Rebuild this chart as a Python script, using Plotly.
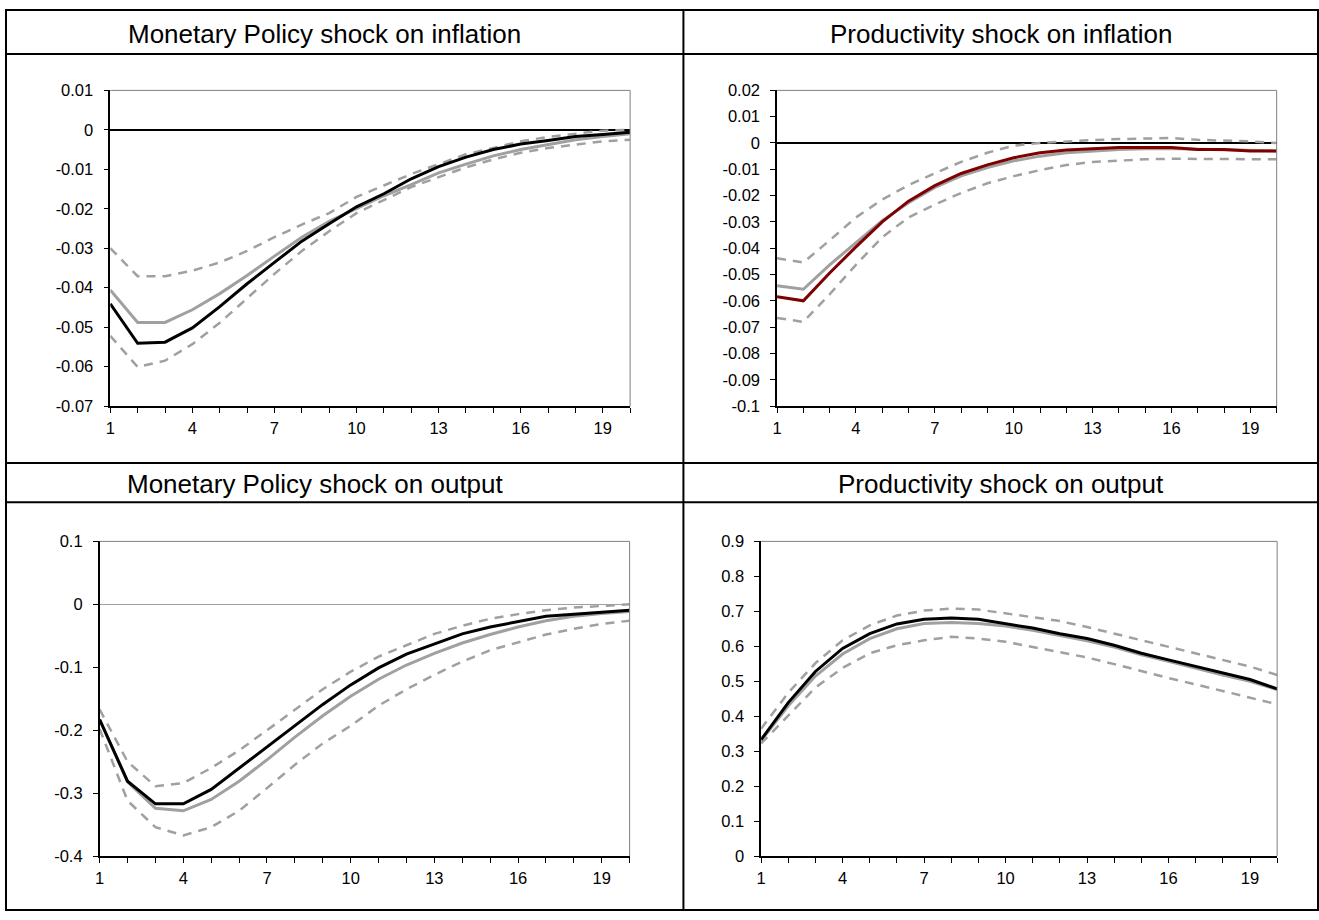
import plotly.graph_objects as go

W, H = 1319, 920

periods = list(range(1, 21))
x_tick_labels = ["1", "", "", "4", "", "", "7", "", "", "10", "", "", "13", "", "", "16", "", "", "19", ""]

titles = ["Monetary Policy shock on inflation", "Productivity shock on inflation",
          "Monetary Policy shock on output", "Productivity shock on output"]

# Panel 1: Monetary Policy shock on inflation
mp_inf_main = [-0.0441, -0.0541, -0.0538, -0.0502, -0.0448, -0.0390, -0.0336, -0.0282, -0.0238, -0.0195,
               -0.0162, -0.0124, -0.0093, -0.0069, -0.0050, -0.0036, -0.0027, -0.0017, -0.0012, -0.0006]
mp_inf_grey = [-0.0406, -0.0488, -0.0488, -0.0456, -0.0415, -0.0369, -0.0320, -0.0272, -0.0232, -0.0199,
               -0.0167, -0.0139, -0.0109, -0.0087, -0.0066, -0.0050, -0.0037, -0.0025, -0.0017, -0.0010]
mp_inf_up = [-0.0300, -0.0371, -0.0371, -0.0357, -0.0336, -0.0307, -0.0272, -0.0240, -0.0211, -0.0170,
             -0.0141, -0.0112, -0.0087, -0.0062, -0.0046, -0.0029, -0.0018, -0.0010, -0.0002, 0.0000]
mp_inf_lo = [-0.0522, -0.0601, -0.0585, -0.0543, -0.0489, -0.0427, -0.0365, -0.0307, -0.0257, -0.0211,
             -0.0178, -0.0145, -0.0120, -0.0095, -0.0075, -0.0058, -0.0046, -0.0037, -0.0029, -0.0025]
mp_inf_yticks = [0.01, 0, -0.01, -0.02, -0.03, -0.04, -0.05, -0.06, -0.07]

# Panel 2: Productivity shock on inflation
pr_inf_main = [-0.0584, -0.0600, -0.0494, -0.0395, -0.0300, -0.0221, -0.0162, -0.0116, -0.0083, -0.0056,
               -0.0037, -0.0027, -0.0022, -0.0017, -0.0017, -0.0017, -0.0025, -0.0025, -0.0030, -0.0030]
pr_inf_grey = [-0.0543, -0.0556, -0.0463, -0.0378, -0.0295, -0.0227, -0.0169, -0.0125, -0.0093, -0.0068,
               -0.0050, -0.0037, -0.0030, -0.0025, -0.0022, -0.0021, -0.0024, -0.0026, -0.0029, -0.0030]
pr_inf_up = [-0.0438, -0.0454, -0.0370, -0.0283, -0.0215, -0.0160, -0.0115, -0.0072, -0.0037, -0.0010,
             0.0000, 0.0006, 0.0011, 0.0015, 0.0017, 0.0019, 0.0012, 0.0010, 0.0006, 0.0000]
pr_inf_lo = [-0.0665, -0.0680, -0.0575, -0.0463, -0.0358, -0.0283, -0.0234, -0.0190, -0.0153, -0.0126,
             -0.0103, -0.0084, -0.0072, -0.0066, -0.0062, -0.0060, -0.0060, -0.0060, -0.0060, -0.0062]
pr_inf_yticks = [0.02, 0.01, 0, -0.01, -0.02, -0.03, -0.04, -0.05, -0.06, -0.07, -0.08, -0.09, -0.1]

# Panel 3: Monetary Policy shock on output
mp_out_main = [-0.183, -0.281, -0.317, -0.317, -0.294, -0.260, -0.227, -0.193, -0.159, -0.128,
               -0.101, -0.079, -0.0625, -0.047, -0.036, -0.027, -0.019, -0.0156, -0.012, -0.0094]
mp_out_grey = [-0.183, -0.282, -0.324, -0.328, -0.310, -0.281, -0.247, -0.211, -0.177, -0.146,
               -0.119, -0.0964, -0.078, -0.0615, -0.048, -0.036, -0.026, -0.019, -0.0146, -0.0115]
mp_out_up = [-0.167, -0.250, -0.289, -0.284, -0.260, -0.232, -0.200, -0.167, -0.135, -0.107,
             -0.083, -0.065, -0.047, -0.034, -0.023, -0.0156, -0.0094, -0.0052, -0.0026, 0.0]
mp_out_lo = [-0.198, -0.312, -0.354, -0.367, -0.354, -0.328, -0.292, -0.255, -0.221, -0.193,
             -0.161, -0.135, -0.112, -0.091, -0.073, -0.060, -0.048, -0.039, -0.031, -0.026]
mp_out_yticks = [0.1, 0, -0.1, -0.2, -0.3, -0.4]

# Panel 4: Productivity shock on output
pr_out_main = [0.333, 0.439, 0.528, 0.594, 0.636, 0.664, 0.677, 0.681, 0.677, 0.664,
               0.652, 0.636, 0.622, 0.603, 0.580, 0.561, 0.542, 0.523, 0.505, 0.478]
pr_out_grey = [0.330, 0.430, 0.515, 0.578, 0.622, 0.650, 0.665, 0.668, 0.665, 0.658,
               0.646, 0.632, 0.616, 0.598, 0.576, 0.557, 0.537, 0.518, 0.500, 0.476]
pr_out_up = [0.364, 0.467, 0.552, 0.617, 0.660, 0.688, 0.702, 0.708, 0.705, 0.694,
             0.685, 0.672, 0.655, 0.636, 0.617, 0.600, 0.580, 0.561, 0.542, 0.518]
pr_out_lo = [0.322, 0.402, 0.482, 0.538, 0.580, 0.603, 0.617, 0.627, 0.622, 0.613,
             0.598, 0.584, 0.568, 0.549, 0.528, 0.509, 0.491, 0.472, 0.455, 0.434]
pr_out_yticks = [0.9, 0.8, 0.7, 0.6, 0.5, 0.4, 0.3, 0.2, 0.1, 0]

GREY = "#a0a0a0"
FONT = "Arial, Liberation Sans, sans-serif"

panels = [
    dict(main=mp_inf_main, grey=mp_inf_grey, up=mp_inf_up, lo=mp_inf_lo, yt=mp_inf_yticks,
         color="#000000", px=(105.7, 627.5), py=(83, 405), zero="#000000", zw=1.5),
    dict(main=pr_inf_main, grey=pr_inf_grey, up=pr_inf_up, lo=pr_inf_lo, yt=pr_inf_yticks,
         color="#7f0000", px=(775, 1276.5), py=(83, 405), zero="#000000", zw=1.5),
    dict(main=mp_out_main, grey=mp_out_grey, up=mp_out_up, lo=mp_out_lo, yt=mp_out_yticks,
         color="#000000", px=(95, 627), py=(543, 864), zero="#a0a0a0", zw=1),
    dict(main=pr_out_main, grey=pr_out_grey, up=pr_out_up, lo=pr_out_lo, yt=pr_out_yticks,
         color="#000000", px=(759, 1277), py=(543, 864), zero=None, zw=0),
]


def px_x(v):
    return v / W


def px_y(v):
    return 1 - v / H


fig = go.Figure()
shapes = []
layout = {}
for i, p in enumerate(panels, start=1):
    xa = "x" if i == 1 else f"x{i}"
    ya = "y" if i == 1 else f"y{i}"
    for key, col, dash, wd in [("up", GREY, "9px,7px", 2.5), ("lo", GREY, "9px,7px", 2.5),
                               ("grey", GREY, "solid", 3), ("main", p["color"], "solid", 3)]:
        fig.add_trace(go.Scatter(x=periods, y=p[key], mode="lines", xaxis=xa, yaxis=ya,
                                 line=dict(color=col, width=wd, dash=dash), showlegend=False,
                                 hoverinfo="skip"))
    yt = p["yt"]
    layout["xaxis" if i == 1 else f"xaxis{i}"] = dict(
        domain=[px_x(p["px"][0]), px_x(p["px"][1])], anchor=ya, range=[1, 20],
        tickmode="array", tickvals=periods, ticktext=x_tick_labels,
        ticks="outside", ticklen=5, tickcolor="#000", showline=True, linecolor="#000", linewidth=1.5,
        showgrid=False, zeroline=False, tickfont=dict(size=16.5, color="#000", family=FONT),
        ticklabelstandoff=1, fixedrange=True)
    layout["yaxis" if i == 1 else f"yaxis{i}"] = dict(
        domain=[px_y(p["py"][1]), px_y(p["py"][0])], anchor=xa, range=[min(yt), max(yt)],
        tickmode="array", tickvals=yt, ticktext=[f"{v:g}" for v in yt],
        ticks="outside", ticklen=5, tickcolor="#000", showline=True, linecolor="#000", linewidth=1.5,
        showgrid=False, zeroline=p["zero"] is not None, zerolinecolor=p["zero"] or "#000",
        zerolinewidth=p["zw"] or 1, tickfont=dict(size=16.5, color="#000", family=FONT),
        ticklabelstandoff=7, fixedrange=True)
    shapes.append(dict(type="line", xref=f"{xa} domain", yref=f"{ya} domain", x0=0, x1=1, y0=1, y1=1,
                       line=dict(color="#808080", width=1)))
    shapes.append(dict(type="line", xref=f"{xa} domain", yref=f"{ya} domain", x0=1, x1=1, y0=0, y1=1,
                       line=dict(color="#808080", width=1)))

grid_col = "#000000"
LEFT, TOP, RIGHT, BOTTOM = 1, 1, 1318, 919
shapes.append(dict(type="rect", xref="paper", yref="paper", x0=px_x(LEFT), x1=px_x(RIGHT),
                   y0=px_y(TOP), y1=px_y(BOTTOM), line=dict(color=grid_col, width=2)))
shapes.append(dict(type="line", xref="paper", yref="paper", x0=px_x(681), x1=px_x(681),
                   y0=px_y(TOP), y1=px_y(BOTTOM), line=dict(color=grid_col, width=2)))
for yy in (46, 463, 503):
    shapes.append(dict(type="line", xref="paper", yref="paper", x0=px_x(LEFT), x1=px_x(RIGHT),
                       y0=px_y(yy), y1=px_y(yy), line=dict(color=grid_col, width=2)))

annotations = []
for t, cx, cy in zip(titles, [321, 1000, 312, 1000], [26, 26, 484, 484]):
    annotations.append(dict(text=t, x=px_x(cx), y=px_y(cy), xref="paper", yref="paper", showarrow=False,
                            xanchor="center", yanchor="middle", font=dict(size=26, color="#000", family=FONT)))

fig.update_layout(width=W, height=H, margin=dict(l=0, r=0, t=0, b=0), paper_bgcolor="white",
                  plot_bgcolor="white", shapes=shapes, annotations=annotations, **layout)

fig.write_html("out.html", config={"displayModeBar": False},
               post_script="document.body.style.margin='0px';")
